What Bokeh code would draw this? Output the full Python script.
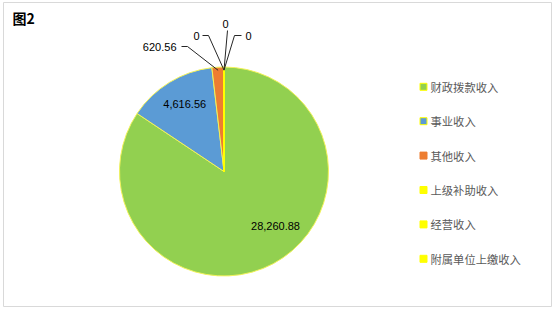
import math
from bokeh.plotting import figure
from bokeh.models import Range1d
from bokeh.core.properties import value
from bokeh.embed import file_html
from bokeh.resources import INLINE

# ---- data ----
categories = ["财政拨款收入", "事业收入", "其他收入", "上级补助收入", "经营收入", "附属单位上缴收入"]
values = [28260.88, 4616.56, 620.56, 0, 0, 0]
labels = ["28,260.88", "4,616.56", "620.56", "0", "0", "0"]
colors = ["#92D050", "#5B9BD5", "#ED7D31", "#FFFF00", "#FFFF00", "#FFFF00"]
title = "图2"

# ---- layout (pixels, origin top-left) ----
W, H = 555, 311
CX, CY, R = 223.5, 171, 104.5
def Y(py):
    return H - py

p = figure(width=W, height=H, output_backend="svg", toolbar_location=None,
           x_range=Range1d(0, W), y_range=Range1d(0, H),
           min_border=0, min_border_left=0, min_border_right=0,
           min_border_top=0, min_border_bottom=0)
p.axis.visible = False
p.grid.visible = False
p.outline_line_color = None
p.background_fill_color = "white"
p.border_fill_color = "white"

# chart frame
p.quad(left=[3], right=[551], bottom=[Y(306)], top=[Y(2)],
       fill_color=None, line_color="#D9D9D9", line_width=1)

# title
p.text(x=[12], y=[Y(17)], text=[title], text_font=value("Noto Sans CJK SC"),
       text_font_size="14px", text_font_style="bold", text_color="#000000",
       text_baseline="middle", text_align="left")

# ---- pie ----
total = sum(values)
starts, ends, mids = [], [], []
cum = 0.0
for v in values:
    a0 = math.pi / 2 - cum / total * 2 * math.pi
    cum += v
    a1 = math.pi / 2 - cum / total * 2 * math.pi
    starts.append(a0); ends.append(a1); mids.append((a0 + a1) / 2)

nz = [i for i, v in enumerate(values) if v > 0]
p.wedge(x=CX, y=Y(CY), radius=R,
        start_angle=[starts[i] for i in nz], end_angle=[ends[i] for i in nz],
        direction="clock", fill_color=[colors[i] for i in nz],
        line_color="#F2F25A", line_width=1)
# zero-valued slices collapse to a line
zi = [i for i, v in enumerate(values) if v == 0]
p.segment(x0=[CX] * len(zi), y0=[Y(CY)] * len(zi),
          x1=[CX + R * math.cos(mids[i]) for i in zi],
          y1=[Y(CY) + R * math.sin(mids[i]) for i in zi],
          line_color="#FFFF00", line_width=2)

# inside labels (slices 0 and 1)
inside = {0: (16, 12), 1: (0, 3)}
for i, (dx, dy) in inside.items():
    lx = CX + 0.72 * R * math.cos(mids[i]) + dx
    ly = Y(CY) + 0.72 * R * math.sin(mids[i]) + dy
    p.text(x=[lx], y=[ly], text=[labels[i]], text_font=value("Liberation Sans"),
           text_font_size="11px", text_color="#000000",
           text_align="center", text_baseline="middle")

# outside labels with leader lines: index -> (text x, text y, align, elbow start x, elbow end x)
outside = {2: (176, 46, "right", 181, 187),
           3: (196, 35, "center", 202, 208),
           4: (225, 23, "center", 227, 227),
           5: (245, 35, "left", 241, 234)}
for i, (tx, ty, al, e0, e1) in outside.items():
    ex = CX + 0.97 * R * math.cos(mids[i])
    ey = Y(CY) + 0.97 * R * math.sin(mids[i])
    ly = ty if i != 4 else 30
    if i == 4:
        p.line(x=[e0, ex], y=[Y(ly), ey], line_color="#262626", line_width=1)
    else:
        p.line(x=[e0, e1, ex], y=[Y(ly), Y(ly), ey], line_color="#262626", line_width=1)
    p.text(x=[tx], y=[Y(ty)], text=[labels[i]], text_font=value("Liberation Sans"),
           text_font_size="11px", text_color="#000000",
           text_align=al, text_baseline="middle")

# ---- legend ----
LX, LY0, LDY = 423, 86.3, 34.4
border = ["#FFFF00", "#FFFF00", None, None, None, None]
for k, (c, name) in enumerate(zip(colors, categories)):
    yy = Y(LY0 + k * LDY)
    p.rect(x=[LX], y=[yy], width=7, height=7, fill_color=c,
           line_color=border[k] if border[k] else c, line_width=1)
    p.text(x=[430], y=[yy], text=[name], text_font=value("Noto Sans CJK SC"),
           text_font_size="11.3px", text_color="#595959",
           text_align="left", text_baseline="middle")

open("out.html", "w").write(file_html(p, INLINE))
